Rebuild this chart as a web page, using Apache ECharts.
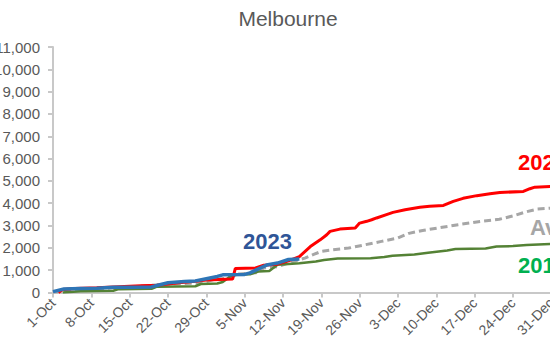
<!DOCTYPE html>
<html>
<head>
<meta charset="utf-8">
<script src="https://cdn.jsdelivr.net/npm/echarts@6/dist/echarts.min.js"></script>
<style>html,body{margin:0;padding:0;background:#fff}#c{width:550px;height:350px}</style>
</head>
<body>
<div id="c"></div>
<script>
// x = days since 1-Oct, y = cumulative count
const tickLabels = ['1-Oct','8-Oct','15-Oct','22-Oct','29-Oct','5-Nov','12-Nov','19-Nov','26-Nov','3-Dec','10-Dec','17-Dec','24-Dec','31-Dec','7-Jan'];
const yTicks = [0,1000,2000,3000,4000,5000,6000,7000,8000,9000,10000,11000];

const data2022 = [[1,0],[1.8,130],[4,180],[8,210],[11,250],[13,270],[16,300],[19,330],[21,380],[23,440],[26,500],[28,560],[32.8,600],[33.3,1080],[37,1100],[38.5,1220],[41,1270],[43,1420],[45,1610],[47,2060],[48.8,2360],[50,2590],[50.6,2740],[52.4,2840],[55.2,2890],[56,3110],[57.3,3190],[58.2,3260],[59.1,3340],[60.9,3490],[62.1,3590],[64.3,3710],[67,3820],[68.8,3860],[71.3,3900],[73.1,4080],[74.9,4220],[77.4,4340],[79.8,4420],[81.6,4480],[85.9,4530],[87.1,4650],[88,4720],[91,4750]];

const dataAvg = [[0,20],[3,80],[7,140],[14,250],[21,380],[27,420],[29,560],[32,650],[34,830],[37,880],[38.5,1100],[41,1150],[43,1330],[46,1540],[47.5,1700],[49,1840],[51,1910],[54,1990],[57,2140],[60,2290],[63,2440],[65,2650],[67.5,2780],[70.5,2900],[74,3040],[78,3180],[81.5,3280],[84,3430],[86.5,3620],[88.5,3740],[91,3780]];

const data2019 = [[1.8,0],[5,60],[11,80],[12,150],[18,170],[19,260],[26,280],[27,380],[30,400],[31,470],[32.3,710],[33.5,790],[36,820],[37.5,940],[39.5,960],[41,1240],[45,1310],[48,1390],[49.5,1460],[52,1520],[58,1540],[60.5,1590],[62,1650],[66,1700],[68.5,1780],[72,1880],[73.5,1950],[79,1970],[81,2060],[84,2080],[86.5,2130],[91,2170]];

const data2023 = [[0,40],[2,160],[5,180],[8,190],[11,230],[14,240],[18,250],[19.5,350],[21,440],[24,490],[26,520],[28,620],[30,720],[31,790],[35,810],[36,880],[37.5,1060],[39,1230],[41,1320],[43,1480],[45,1500]];

const chart = echarts.init(document.getElementById('c'), null, {renderer: 'svg'});
const txt = '#595959';
const axisCol = '#C8C8C8';
chart.setOption({
  animation: false,
  backgroundColor: '#fff',
  title: {
    text: 'Melbourne', left: 283, top: 3, textAlign: 'center',
    textStyle: {fontFamily: 'Liberation Sans', fontSize: 21, fontWeight: 'normal', color: txt}
  },
  grid: {left: 53, top: 47, bottom: 57.5, right: -39.6, containLabel: false, outerBoundsMode: 'none'},
  xAxis: {
    type: 'value', min: 0, max: 98, interval: 7,
    axisLine: {show: true, lineStyle: {color: axisCol, width: 2}},
    axisTick: {show: true, length: 5, lineStyle: {color: axisCol, width: 2}},
    splitLine: {show: false},
    axisLabel: {
      rotate: 45, margin: 8, color: txt, fontFamily: 'Liberation Sans', fontSize: 14,
      formatter: v => tickLabels[Math.round(v / 7)] || ''
    }
  },
  yAxis: {
    type: 'value', min: yTicks[0], max: yTicks[yTicks.length - 1], interval: 1000,
    axisLine: {show: true, lineStyle: {color: axisCol, width: 2}},
    axisTick: {show: true, length: 5, lineStyle: {color: axisCol, width: 2}},
    splitLine: {show: false},
    axisLabel: {
      margin: 13, color: txt, fontFamily: 'Liberation Sans', fontSize: 15,
      formatter: v => v.toLocaleString('en-US')
    }
  },
  series: [
    {name: 'Avg', type: 'line', data: dataAvg, showSymbol: false, z: 2,
     lineStyle: {color: '#A6A6A6', width: 3, type: [7, 4]}},
    {name: '2019', type: 'line', data: data2019, showSymbol: false, z: 3,
     lineStyle: {color: '#548235', width: 2.5}},
    {name: '2022', type: 'line', data: data2022, showSymbol: false, z: 4,
     lineStyle: {color: '#FF0000', width: 3}},
    {name: '2023', type: 'line', data: data2023, showSymbol: false, z: 5,
     lineStyle: {color: '#2E75B6', width: 3.5}}
  ],
  graphic: [
    {type: 'text', left: 518, top: 151, style: {text: '2022', fill: '#FF0000', font: 'bold 22px "Liberation Sans"'}},
    {type: 'text', left: 530, top: 216, style: {text: 'Avg', fill: '#A6A6A6', font: 'bold 22px "Liberation Sans"'}},
    {type: 'text', left: 518, top: 254, style: {text: '2019', fill: '#00B050', font: 'bold 22px "Liberation Sans"'}},
    {type: 'text', left: 243, top: 230, style: {text: '2023', fill: '#2F5597', font: 'bold 22px "Liberation Sans"'}}
  ]
});
</script>
</body>
</html>
